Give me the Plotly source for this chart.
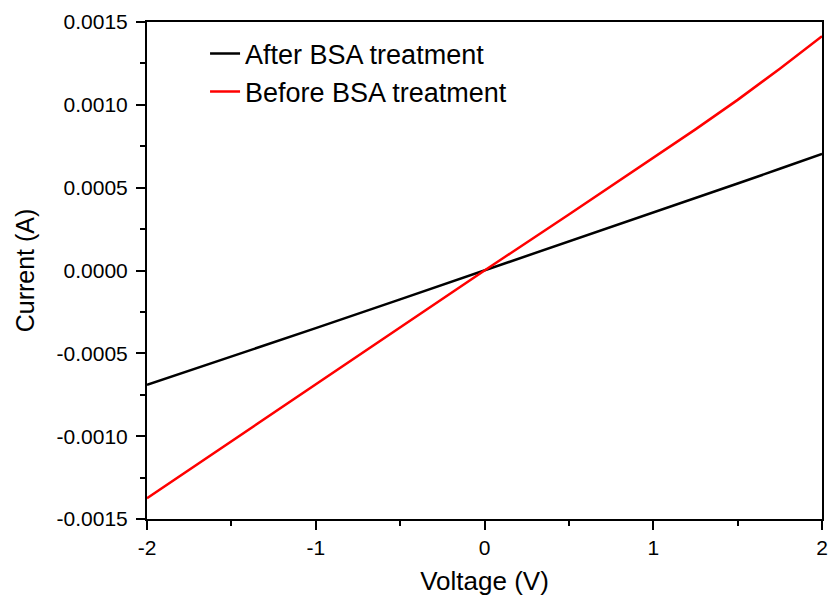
import plotly.graph_objects as go

voltage = [-2.0, -1.5, -1.0, -0.5, 0.0, 0.5, 1.0, 1.25, 1.5, 1.75, 2.0]
current_after = [-0.00069, -0.00052, -0.000348, -0.000174, 0.0, 0.000174, 0.000348, 0.000436, 0.000525, 0.000614, 0.000704]
current_before = [-0.001375, -0.00103, -0.00069, -0.000343, 0.0, 0.000338, 0.000678, 0.000852, 0.00103, 0.001218, 0.001414]

x_tickvals = [-2, -1, 0, 1, 2]
x_ticktext = ["-2", "-1", "0", "1", "2"]
y_tickvals = [0.0015, 0.0010, 0.0005, 0.0, -0.0005, -0.0010, -0.0015]
y_ticktext = ["0.0015", "0.0010", "0.0005", "0.0000", "-0.0005", "-0.0010", "-0.0015"]

font = "Arial, Liberation Sans, sans-serif"

fig = go.Figure()
fig.add_trace(go.Scatter(x=voltage, y=current_after, mode="lines",
                         line=dict(color="black", width=2.5), name="After BSA treatment"))
fig.add_trace(go.Scatter(x=voltage, y=current_before, mode="lines",
                         line=dict(color="#ff0000", width=2.5), name="Before BSA treatment"))

axis_common = dict(showline=True, linecolor="black", linewidth=2, mirror=True,
                   ticks="outside", ticklen=9, tickwidth=2, tickcolor="black",
                   showgrid=False, zeroline=False,
                   tickfont=dict(family=font, size=21, color="black"))

fig.update_xaxes(range=[-2, 2], tickmode="array", tickvals=x_tickvals, ticktext=x_ticktext,
                 minor=dict(ticks="outside", ticklen=5, tickwidth=2, tickcolor="black",
                            tick0=-2, dtick=0.5, showgrid=False),
                 automargin=False,
                 title=dict(text="Voltage (V)", font=dict(family=font, size=26, color="black"), standoff=14),
                 **axis_common)
fig.update_yaxes(range=[-0.0015, 0.0015], tickmode="array", tickvals=y_tickvals, ticktext=y_ticktext,
                 minor=dict(ticks="outside", ticklen=5, tickwidth=2, tickcolor="black",
                            tick0=-0.0015, dtick=0.00025, showgrid=False),
                 ticklabelstandoff=4, automargin="left",
                 title=dict(text="Current (A)", font=dict(family=font, size=25, color="black"), standoff=15),
                 **axis_common)

fig.update_layout(width=830, height=603, margin=dict(l=147, r=8, t=22, b=84),
                  plot_bgcolor="white", paper_bgcolor="white",
                  legend=dict(x=0.086, y=0.985, xanchor="left", yanchor="top",
                              font=dict(family=font, size=27, color="black"),
                              bgcolor="rgba(0,0,0,0)", tracegroupgap=0),
                  showlegend=True)

fig.write_html("out.html")
